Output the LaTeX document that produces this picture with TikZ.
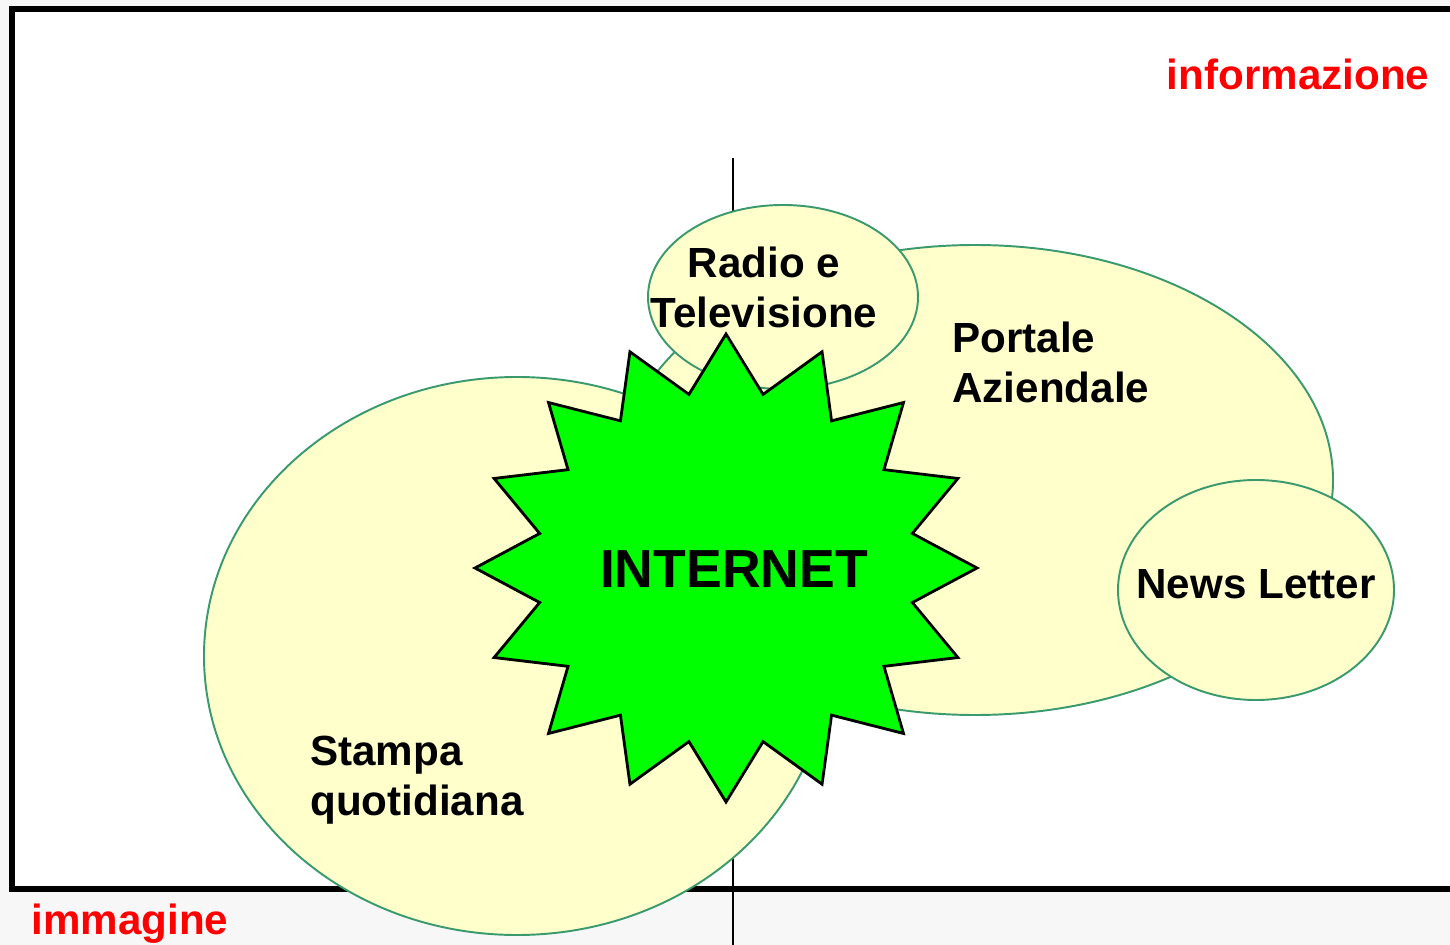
\documentclass[tikz,border=0pt]{standalone}
\usepackage{fontspec}
\setmainfont{Liberation Sans}
\definecolor{bubblefill}{HTML}{FFFFCC}
\definecolor{bubbleline}{HTML}{3A9A6E}
\definecolor{burstgreen}{HTML}{00FF00}
\definecolor{pagegray}{HTML}{F7F7F7}
\tikzset{
    bubble/.style={fill=bubblefill, draw=bubbleline, line width=1.1pt},
    burst/.style={fill=burstgreen, draw=black, line width=1.6pt, line join=miter},
    lbl/.style={inner sep=0pt, font=\fontsize{24}{28.5}\selectfont\bfseries},
    redlbl/.style={lbl, text=red},
}
\begin{document}
\begin{tikzpicture}[x=0.02cm, y=-0.02cm]
    \useasboundingbox (0,0) rectangle (1450,945);
    \fill[pagegray] (0,0) rectangle (1450,945);
    \draw[line width=3.2pt, fill=white] (12,9) rectangle (1470,889);

    \coordinate (axtop) at (733,158);
    \coordinate (axbot) at (733,945);
    \draw[line width=1.2pt] (axtop) -- (axbot);

    \draw[bubble] (975,480) ellipse [x radius=358, y radius=235];
    \draw[bubble] (517,656) ellipse [x radius=313, y radius=279];
    \draw[bubble] (783,297) ellipse [x radius=135, y radius=92];
    \draw[burst] (726,334) \foreach \k [evaluate=\k as \rx using {isodd(\k) ? 190 : 251},
        evaluate=\k as \ry using {isodd(\k) ? 177 : 234}] in {1,...,31} {
        -- ({726+\rx*sin(\k*11.25)}, {568-\ry*cos(\k*11.25)}) } -- cycle;
    \draw[bubble] (1256,590) ellipse [x radius=138, y radius=110];

    \node[redlbl, anchor=base] (info) at (1298,90) {informazione};
    \node[redlbl, anchor=base] (img) at (130,934) {immagine};
    \node[lbl, align=center] (radio) at (764,287) {Radio e\\Televisione};
    \node[lbl, align=left, anchor=west] (portale) at (952,362) {Portale\\Aziendale};
    \node[lbl, align=left, anchor=west] (stampa) at (310,780) {Stampa\\quotidiana};
    \node[lbl, anchor=base] (news) at (1256,598) {News Letter};
    \node[lbl, anchor=base, font=\fontsize{30.5}{36}\selectfont\bfseries] (internet) at (734,587) {INTERNET};
\end{tikzpicture}
\end{document}
